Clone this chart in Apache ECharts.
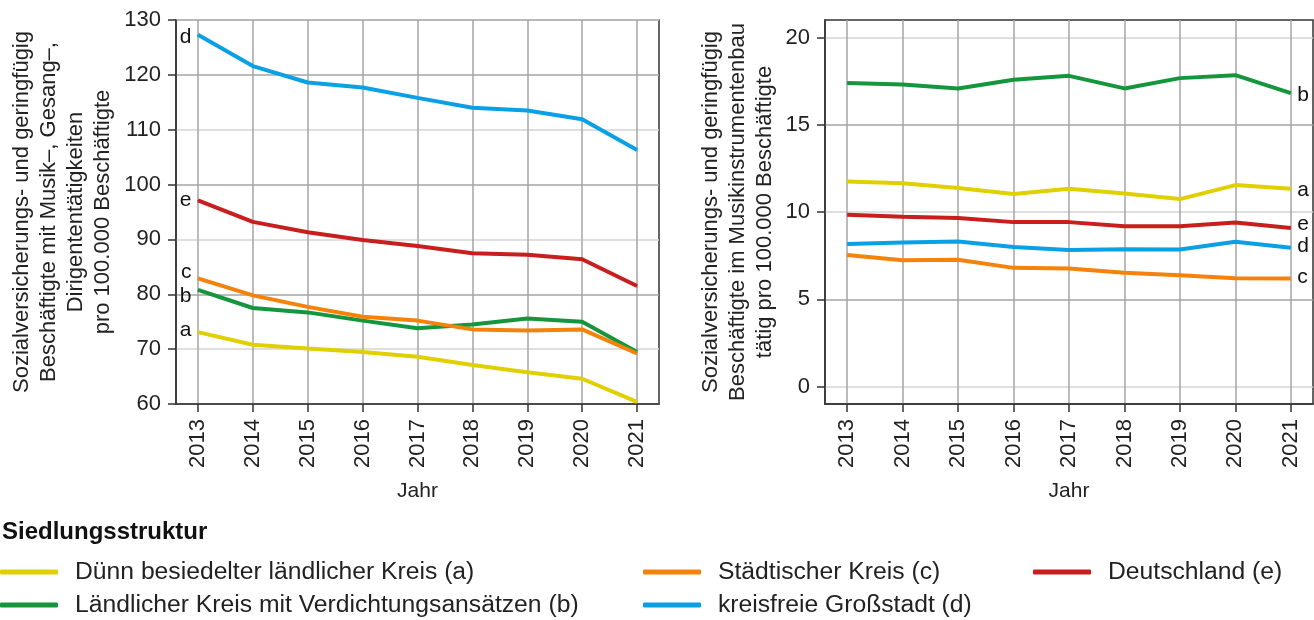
<!DOCTYPE html>
<html><head><meta charset="utf-8">
<script src="https://cdn.jsdelivr.net/npm/echarts@6/dist/echarts.min.js"></script>
<style>html,body{margin:0;padding:0;background:#fff}#c{width:1314px;height:620px}</style>
</head><body><div id="c"></div>
<script>
const years = [2013, 2014, 2015, 2016, 2017, 2018, 2019, 2020, 2021];
const seriesNames = [
  'Dünn besiedelter ländlicher Kreis (a)',
  'Ländlicher Kreis mit Verdichtungsansätzen (b)',
  'Städtischer Kreis (c)',
  'kreisfreie Großstadt (d)',
  'Deutschland (e)'
];
const letters = ['a', 'b', 'c', 'd', 'e'];
const colors = ['#e0d000', '#16963c', '#f5820a', '#0aa0e6', '#c81e1e'];

// Left chart: Musik-, Gesang-, Dirigententätigkeiten pro 100.000 Beschäftigte
const musikA = [73.1, 70.8, 70.1, 69.5, 68.6, 67.1, 65.8, 64.6, 60.4];
const musikB = [80.8, 77.5, 76.7, 75.2, 73.8, 74.5, 75.6, 75.0, 69.5];
const musikC = [82.9, 79.8, 77.7, 75.9, 75.2, 73.6, 73.4, 73.6, 69.2];
const musikD = [127.3, 121.6, 118.6, 117.7, 115.8, 114.0, 113.5, 111.9, 106.3];
const musikE = [97.1, 93.2, 91.3, 89.9, 88.8, 87.5, 87.2, 86.4, 81.5];

// Right chart: Musikinstrumentenbau pro 100.000 Beschäftigte
const instrA = [11.75, 11.65, 11.37, 11.03, 11.33, 11.06, 10.74, 11.54, 11.33];
const instrB = [17.39, 17.31, 17.08, 17.58, 17.80, 17.08, 17.67, 17.84, 16.81];
const instrC = [7.53, 7.24, 7.26, 6.80, 6.76, 6.52, 6.38, 6.21, 6.19];
const instrD = [8.16, 8.25, 8.31, 8.00, 7.82, 7.87, 7.85, 8.29, 7.95];
const instrE = [9.84, 9.73, 9.65, 9.42, 9.42, 9.19, 9.19, 9.40, 9.08];

const leftYTicks = [60, 70, 80, 90, 100, 110, 120, 130];
const rightYTicks = [0, 5, 10, 15, 20];

const leftName = 'Sozialversicherungs- und geringfügig\nBeschäftigte mit Musik–, Gesang–,\nDirigententätigkeiten\npro 100.000 Beschäftigte';
const rightName = 'Sozialversicherungs- und geringfügig\nBeschäftigte im Musikinstrumentenbau\ntätig pro 100.000 Beschäftigte';

const FONT = '"Liberation Sans", Arial, sans-serif';
const TXT = '#222';
const AX = '#333';

const leftData = [musikA, musikB, musikC, musikD, musikE];
const rightData = [instrA, instrB, instrC, instrD, instrE];
const leftLabelOffset = [[0, -2], [0, 6], [0, -6], [0, 2], [0, 0]];
const rightLabelOffset = [[0, 1], [0, 2], [0, -1], [0, -2], [0, -4]];

function xAxisCfg(gi) {
  return {
    type: 'value', gridIndex: gi, min: 2012.6, max: 2021.4, minInterval: 1, maxInterval: 1,
    name: 'Jahr', nameLocation: 'middle', nameGap: 77,
    nameTextStyle: {fontSize: 21, color: TXT, fontFamily: FONT},
    axisLine: {show: true, onZero: false, lineStyle: {color: AX, width: 1.5}},
    axisTick: {show: true, length: 8, customValues: years, lineStyle: {color: AX, width: 1.5}},
    axisLabel: {rotate: 90, fontSize: 22, color: TXT, fontFamily: FONT, margin: 15, customValues: years,
      formatter: v => (Math.abs(v - Math.round(v)) < 1e-6 ? String(Math.round(v)) : '')},
    splitLine: {show: true, lineStyle: {color: '#a4a4a4', width: 1.5}}
  };
}

function labelFor(s, pos, off) {
  return {show: true, position: pos, distance: 6, formatter: letters[s], fontSize: 21,
    color: '#111', fontFamily: FONT, offset: off};
}

const series = [];
leftData.forEach((arr, s) => {
  series.push({
    type: 'line', name: seriesNames[s], xAxisIndex: 0, yAxisIndex: 0,
    symbol: 'circle', symbolSize: 1, showSymbol: true,
    lineStyle: {width: 4, color: colors[s]}, itemStyle: {color: colors[s]},
    data: arr.map((v, i) => i === 0 ? {value: [years[i], v], label: labelFor(s, 'left', leftLabelOffset[s])} : [years[i], v])
  });
});
rightData.forEach((arr, s) => {
  const last = arr.length - 1;
  series.push({
    type: 'line', name: seriesNames[s], xAxisIndex: 1, yAxisIndex: 1,
    symbol: 'circle', symbolSize: 1, showSymbol: true,
    lineStyle: {width: 4, color: colors[s]}, itemStyle: {color: colors[s]},
    data: arr.map((v, i) => i === last ? {value: [years[i], v], label: labelFor(s, 'right', rightLabelOffset[s])} : [years[i], v])
  });
});

const legendBase = {
  orient: 'vertical', top: 558, padding: 0, itemWidth: 58, itemHeight: 5, itemGap: 5, icon: 'roundRect',
  textStyle: {fontSize: 24.7, color: TXT, fontFamily: FONT, lineHeight: 28, padding: [0, 0, 0, 12]},
  selectedMode: false
};

const option = {
  backgroundColor: '#fff',
  animation: false,
  textStyle: {fontFamily: FONT},
  title: {text: 'Siedlungsstruktur', left: 2, top: 518, padding: 0,
    textStyle: {fontSize: 24, lineHeight: 28, fontWeight: 'bold', color: '#111', fontFamily: FONT}},
  legend: [
    Object.assign({}, legendBase, {left: 0, data: [seriesNames[0], seriesNames[1]]}),
    Object.assign({}, legendBase, {left: 643, data: [seriesNames[2], seriesNames[3]]}),
    Object.assign({}, legendBase, {left: 1033, data: [seriesNames[4]]})
  ],
  grid: [
    {left: 176, top: 20, width: 483, height: 384, show: true, borderColor: AX, borderWidth: 1.5, backgroundColor: '#fff'},
    {left: 825, top: 20, width: 488, height: 384, show: true, borderColor: AX, borderWidth: 1.5, backgroundColor: '#fff'}
  ],
  xAxis: [xAxisCfg(0), xAxisCfg(1)],
  yAxis: [
    {type: 'value', gridIndex: 0, min: 60, max: 130, interval: 10,
      name: leftName, nameLocation: 'middle', nameGap: 60,
      nameTextStyle: {fontSize: 22, lineHeight: 27, color: TXT, fontFamily: FONT, align: 'center'},
      axisLine: {show: true, lineStyle: {color: AX, width: 1.5}},
      axisTick: {show: true, length: 8, customValues: leftYTicks, lineStyle: {color: AX, width: 1.5}},
      axisLabel: {fontSize: 22, color: TXT, fontFamily: FONT, margin: 15, customValues: leftYTicks},
      splitLine: {show: true, lineStyle: {color: ['#a4a4a4', '#d4d4d4'], width: 1.5}}
    },
    {type: 'value', gridIndex: 1, min: -1, max: 21, minInterval: 2.5, maxInterval: 2.5,
      name: rightName, nameLocation: 'middle', nameGap: 47,
      nameTextStyle: {fontSize: 22, lineHeight: 27, color: TXT, fontFamily: FONT, align: 'center'},
      axisLine: {show: true, lineStyle: {color: AX, width: 1.5}},
      axisTick: {show: true, length: 8, customValues: rightYTicks, lineStyle: {color: AX, width: 1.5}},
      axisLabel: {fontSize: 22, color: TXT, fontFamily: FONT, margin: 15, customValues: rightYTicks,
        formatter: v => (Math.abs(v % 5) < 1e-6 ? String(v) : '')},
      splitLine: {show: true, lineStyle: {color: ['#d4d4d4', '#a4a4a4'], width: 1.5}}
    }
  ],
  series: series
};

const chart = echarts.init(document.getElementById('c'), null, {renderer: 'canvas'});
chart.setOption(option);
</script>
</body></html>
